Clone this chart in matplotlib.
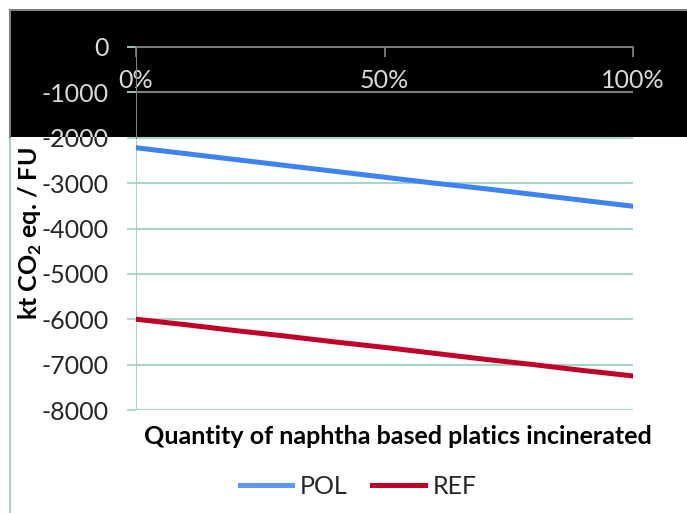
import matplotlib
matplotlib.use("Agg")
from matplotlib import pyplot as plt
from matplotlib.patches import Rectangle
from matplotlib.lines import Line2D
from matplotlib.transforms import Bbox, TransformedBbox

plt.rcParams['font.family'] = ['Lato', 'DejaVu Sans']
plt.rcParams['mathtext.fontset'] = 'custom'
plt.rcParams['mathtext.rm'] = 'Lato'
plt.rcParams['mathtext.bf'] = 'Lato:bold'
plt.rcParams['axes.unicode_minus'] = False

# data
share = [0, 10, 20, 30, 40, 50, 60, 70, 80, 90, 100]
pol = [-2220, -2350, -2480, -2610, -2740, -2870, -3000, -3120, -3250, -3380, -3510]
ref = [-6000, -6120, -6250, -6370, -6500, -6620, -6750, -6880, -7000, -7130, -7250]
y_ticks = [0, -1000, -2000, -3000, -4000, -5000, -6000, -7000, -8000]
x_ticks = [0, 50, 100]
x_tick_labels = ['0%', '50%', '100%']

W, H = 687, 513
fs = 18
grid_green = '#a9d6c4'
band_gray = '#7f7f7f'
light_txt = '#d9d9d9'
dark_txt = '#262626'


def fx(px):
    return px / W


def fy(py):
    return 1 - py / H


fig = plt.figure(figsize=(W / 100, H / 100), dpi=100)

# black band over the top of the chart
band = Rectangle((fx(10), fy(137)), 1 - fx(10), fy(10) - fy(137),
                 transform=fig.transFigure, facecolor='black',
                 edgecolor='none', zorder=-5)
fig.patches.append(band)
fig.add_artist(Line2D([fx(10), 1], [fy(10), fy(10)], transform=fig.transFigure,
                      color=band_gray, lw=1.5))
fig.add_artist(Line2D([fx(10), fx(10)], [fy(137), 0], transform=fig.transFigure,
                      color=grid_green, lw=1.5))
fig.add_artist(Line2D([fx(10), fx(10)], [fy(10), fy(137)], transform=fig.transFigure,
                      color=band_gray, lw=1.5))

ax = fig.add_axes([fx(136), fy(410), fx(633) - fx(136), fy(47) - fy(410)])
ax.set_facecolor('none')
ax.set_xlim(0, 100)
ax.set_ylim(-8000, 0)

for s in ['top', 'right', 'left']:
    ax.spines[s].set_visible(False)
ax.spines['bottom'].set_position(('data', 0))
ax.spines['bottom'].set_color(band_gray)
ax.spines['bottom'].set_linewidth(1.3)

ax.set_xticks(x_ticks)
ax.set_xticklabels(x_tick_labels)
ax.tick_params(axis='x', direction='out', length=7, width=1.3,
               color=band_gray, labelcolor=light_txt, labelsize=fs, pad=9)

ax.set_yticks(y_ticks)
ax.tick_params(axis='y', direction='out', length=6.5, width=1.3,
               color=grid_green, labelcolor=dark_txt, labelsize=fs, pad=13)
ax.grid(axis='y', color=grid_green, lw=1.5)
ax.set_axisbelow(True)

# parts of the axis that sit inside the black band are grey
for i, t in enumerate(ax.yaxis.get_major_ticks()):
    if y_ticks[i] > -2000:
        t.tick1line.set_color(band_gray)
        t.gridline.set_color(band_gray)
        t.label1.set_color(light_txt)

ax.axvline(0, ymin=0, ymax=0.75, color=grid_green, lw=1.5, zorder=1)
ax.axvline(0, ymin=0.75, ymax=1, color=band_gray, lw=1.5, zorder=1)

l_pol, = ax.plot(share, pol, color='#3d83f2', lw=3.6, label='POL', zorder=3)
l_ref, = ax.plot(share, ref, color='#c00028', lw=3.6, label='REF', zorder=3)

fig.text(fx(398), fy(436), 'Quantity of naphtha based platics incinerated',
         ha='center', va='center', fontsize=fs, fontweight='bold', color='black')
fig.text(fx(30), fy(234), r'kt CO$_\mathbf{2}$ eq. / FU', rotation=90,
         ha='center', va='center', fontsize=fs, fontweight='bold', color='black')

leg = fig.legend(handles=[l_pol, l_ref], loc='center', ncol=2,
                 bbox_to_anchor=(fx(358), fy(486)), frameon=False,
                 fontsize=fs, handlelength=2.1, handletextpad=0.3,
                 columnspacing=1.0)
leg.get_lines()[0].set_color('#5b9cf2')
for txt in leg.get_texts():
    txt.set_color(dark_txt)

# the -2000 label is cut by the band edge: light copy clipped to the band
fig.canvas.draw()
lab = ax.yaxis.get_major_ticks()[2].label1
ghost = ax.text(*lab.get_position(), lab.get_text(), transform=lab.get_transform(),
                ha=lab.get_ha(), va=lab.get_va(), fontsize=fs, color=light_txt,
                clip_on=True, zorder=5)
ghost.set_clip_box(TransformedBbox(Bbox([[fx(10), fy(137)], [1, fy(10)]]),
                                   fig.transFigure))

fig.savefig('out.png', dpi=100)
